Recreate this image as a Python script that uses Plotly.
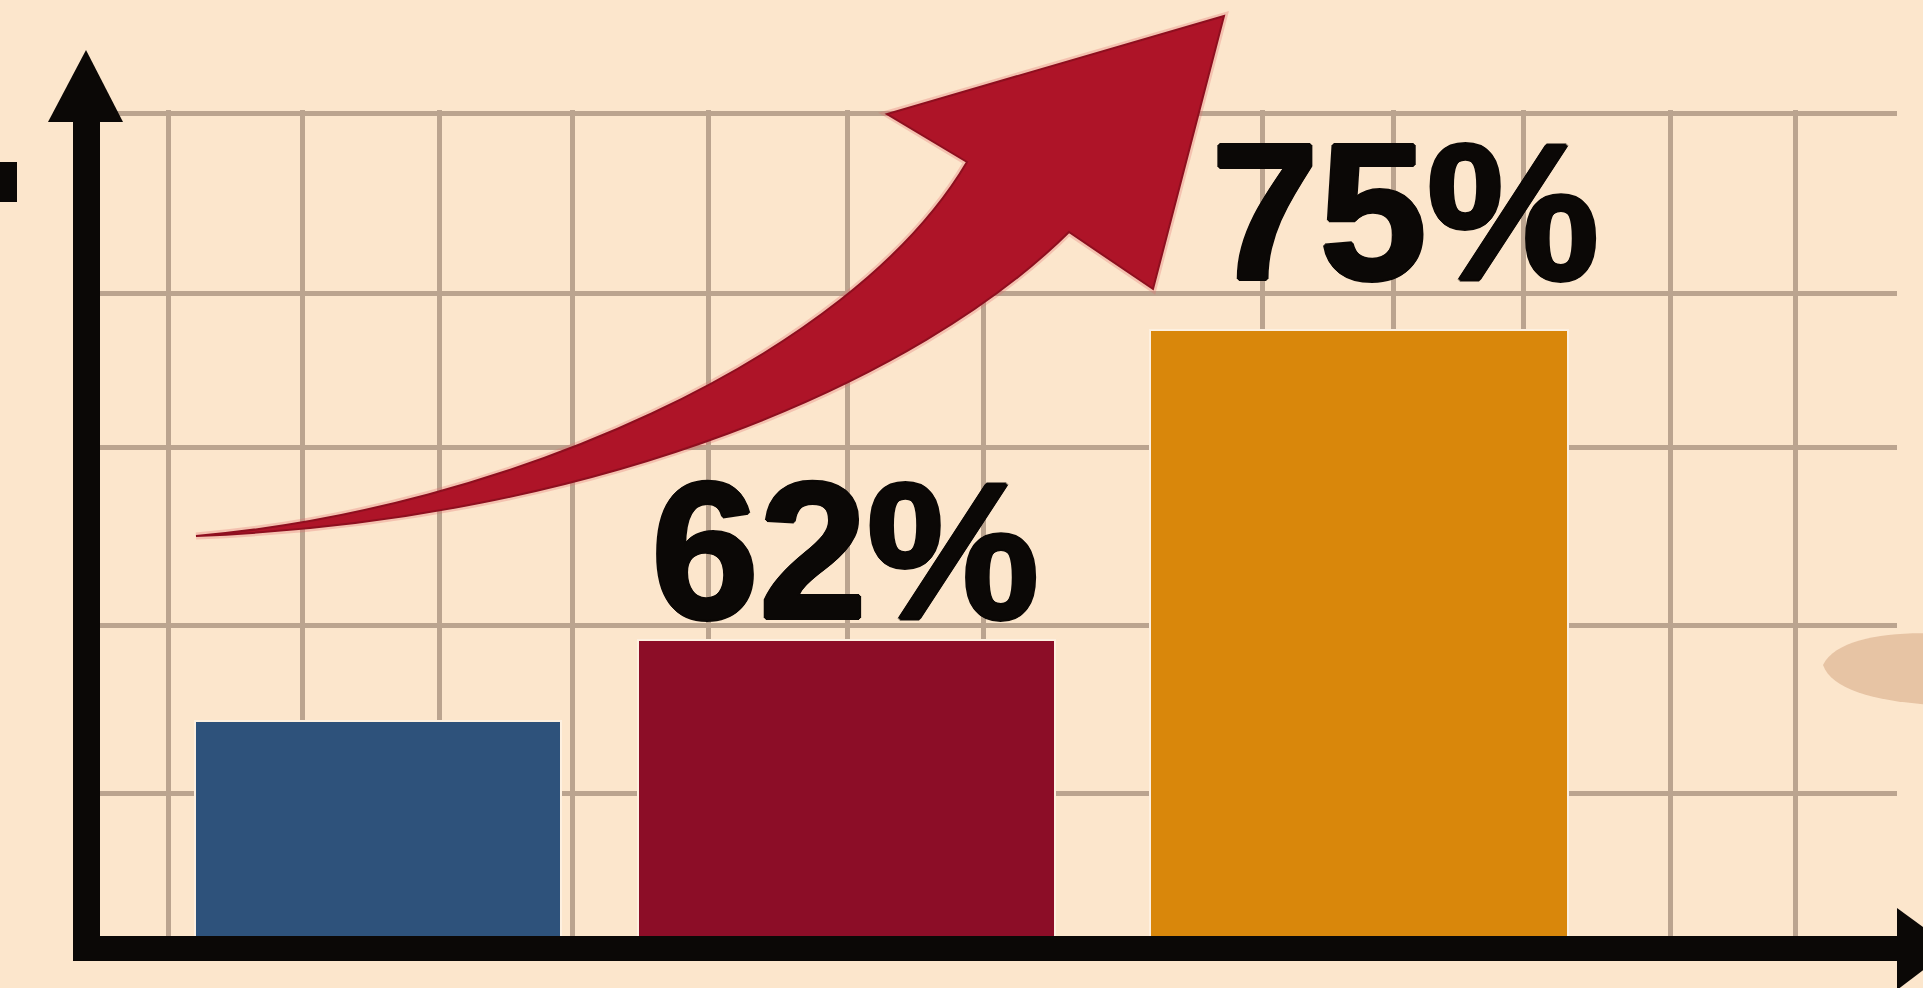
import plotly.graph_objects as go

# ---------------- data ----------------
categories = ["A", "B", "C"]
values = [58.6, 62, 75]           # percent (blue bar unlabeled, estimated from its height)
labels = ["", "62%", "75%"]
bar_colors = ["#2e527b", "#8c0d27", "#d9870b"]

# ---------------- layout constants (pixels of the 1923x988 canvas) ----------------
W, H = 1923, 988
L, R, T, B = 98, 1897, 110, 948          # plot area
CAT0_PX, CAT_STEP_PX = 375, 490          # pixel of category 0 and spacing
Y_REF_V, Y_REF_PX, PX_PER_UNIT = 62, 640, 23.846

bar_offsets = [-0.367, -0.463, -0.418]   # left edge relative to category (axis units)
bar_widths = [0.747, 0.851, 0.853]
label_xshift = [0, -20, 50]
label_yshift = [0, -21, 8]

vgrid_px = [168, 302, 439, 572, 708, 847, 983, 1262, 1393, 1523, 1670, 1795]
hgrid_px = [113, 293, 447, 625, 793]

BG = "#fce6cc"
GRID = "#bba48f"
INK = "#0b0806"


def x_of_px(px):
    return (px - CAT0_PX) / CAT_STEP_PX


def y_of_px(py):
    return Y_REF_V + (Y_REF_PX - py) / PX_PER_UNIT


def px_paper(px):
    return (px - L) / (R - L)


def py_paper(py):
    return (B - py) / (B - T)


def P(px, py):
    return f"{px_paper(px):.5f},{py_paper(py):.5f}"


xs = list(range(len(categories)))

fig = go.Figure()
fig.add_trace(go.Bar(
    x=xs, y=values,
    offset=bar_offsets, width=bar_widths,
    marker=dict(color=bar_colors, line=dict(color="#fdf0e0", width=2)),
    hoverinfo="skip",
))

thicken = ", ".join(f"{dx}px {dy}px 0 {INK}" for dx, dy in
                    [(2, 0), (-2, 0), (0, 2), (0, -2), (1, 1), (-1, -1), (1, -1), (-1, 1)])

annotations = []
for i, lab in enumerate(labels):
    if not lab:
        continue
    annotations.append(dict(
        x=xs[i], y=values[i], xref="x", yref="y",
        text=lab, showarrow=False,
        xanchor="center", yanchor="bottom",
        xshift=label_xshift[i], yshift=label_yshift[i],
        font=dict(family="Liberation Sans", size=194, color=INK, weight="bold",
                  shadow=thicken),
    ))

shapes = []
# red growth arrow (soft glow + body)
arrow_path = (
    f"M {P(196,536)} C {P(500,510)} {P(850,360)} {P(967,162)} "
    f"L {P(887,114)} L {P(1224,16)} L {P(1153,289)} L {P(1069,232)} "
    f"C {P(920,380)} {P(600,520)} {P(196,536)} Z"
)
shapes.append(dict(type="path", xref="paper", yref="paper", path=arrow_path,
                   fillcolor="rgba(0,0,0,0)", line=dict(color="rgba(225,110,110,0.3)", width=7),
                   layer="above"))
shapes.append(dict(type="path", xref="paper", yref="paper", path=arrow_path,
                   fillcolor="#ae1428", line=dict(color="#8e0f1f", width=2), layer="above"))
# y axis
shapes.append(dict(type="rect", xref="paper", yref="paper",
                   x0=px_paper(73), x1=px_paper(100), y0=py_paper(118), y1=py_paper(961),
                   fillcolor=INK, line=dict(width=0), layer="above"))
shapes.append(dict(type="path", xref="paper", yref="paper",
                   path=f"M {P(48,122)} L {P(86,50)} L {P(123,122)} Z",
                   fillcolor=INK, line=dict(width=0), layer="above"))
# x axis
shapes.append(dict(type="rect", xref="paper", yref="paper",
                   x0=px_paper(73), x1=px_paper(1900), y0=py_paper(936), y1=py_paper(961),
                   fillcolor=INK, line=dict(width=0), layer="above"))
shapes.append(dict(type="path", xref="paper", yref="paper",
                   path=f"M {P(1897,908)} L {P(1952,948)} L {P(1897,990)} Z",
                   fillcolor=INK, line=dict(width=0), layer="above"))
# cut-off dark glyph at the left edge
shapes.append(dict(type="rect", xref="paper", yref="paper",
                   x0=px_paper(-5), x1=px_paper(17), y0=py_paper(162), y1=py_paper(202),
                   fillcolor=INK, line=dict(width=0), layer="above"))
# soft tan blob at right edge
shapes.append(dict(type="path", xref="paper", yref="paper",
                   path=f"M {P(1823,665)} C {P(1840,630)} {P(1930,628)} {P(1990,640)} "
                        f"L {P(1990,705)} C {P(1920,708)} {P(1835,700)} {P(1823,665)} Z",
                   fillcolor="#e3bd9c", opacity=0.85, line=dict(width=0), layer="below"))

fig.update_layout(
    width=W, height=H,
    margin=dict(l=L, r=W - R, t=T, b=H - B, pad=0),
    paper_bgcolor=BG, plot_bgcolor=BG,
    showlegend=False,
    bargap=0,
    annotations=annotations,
    shapes=shapes,
    xaxis=dict(range=[x_of_px(L), x_of_px(R)], tickmode="array",
               tickvals=[x_of_px(p) for p in vgrid_px], showticklabels=False,
               ticks="", showgrid=True, gridcolor=GRID, gridwidth=5,
               zeroline=False, showline=False, automargin=False, fixedrange=True),
    yaxis=dict(range=[y_of_px(B), y_of_px(T)], tickmode="array",
               tickvals=[y_of_px(p) for p in hgrid_px], showticklabels=False,
               ticks="", showgrid=True, gridcolor=GRID, gridwidth=5,
               zeroline=False, showline=False, automargin=False, fixedrange=True),
)

fig.write_html(
    "out.html",
    config={"displayModeBar": False},
    post_script="document.body.style.margin='0';document.body.style.overflow='hidden';",
)
